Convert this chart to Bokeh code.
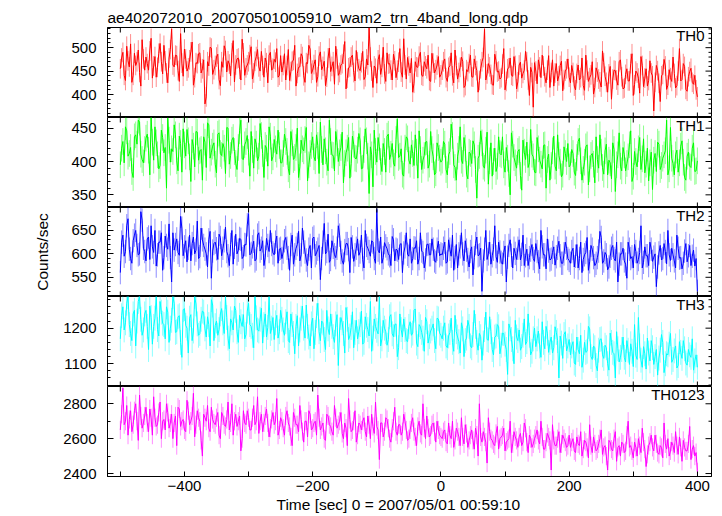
import numpy as np
from bokeh.plotting import figure
from bokeh.layouts import column
from bokeh.models import Range1d, Label, FixedTicker, ColumnDataSource, Title
from bokeh.embed import file_html
from bokeh.resources import INLINE

title_text = "ae402072010_20070501005910_wam2_trn_4band_long.qdp"
x_label = "Time [sec] 0 = 2007/05/01 00:59:10"
y_label = "Counts/sec"

# 2-s light-curve bins: "even" bins start at -500 s, "odd" bins at -498 s, each every 4 s
t_even_start = -500
t_odd_start = -498
t_pair_step = 4

th0_even = [455, 490, 430, 472, 508, 441, 462, 495, 418, 476,
            480, 452, 520, 461, 437, 488, 470, 505, 446, 478,
            540, 459, 483, 428, 467, 497, 450, 474, 512, 436,
            466, 489, 455, 380, 470, 501, 443, 462, 486, 419,
            458, 494, 472, 440, 515, 463, 478, 431, 489, 457,
            470, 502, 446, 481, 459, 492, 437, 468, 484, 452,
            475, 498, 441,
            448, 487, 462, 430, 471, 505, 445, 459, 481, 426,
            466, 497, 452, 474, 438, 491, 460, 419, 478, 449,
            470, 503, 441, 463, 486, 412, 457, 480, 447, 494,
            455, 468, 432, 476, 542, 450, 461, 424, 485, 458,
            444, 489, 466, 431, 472, 452, 498, 437, 463, 479,
            446, 405, 470, 458, 490, 439, 461, 484, 428, 467,
            453, 481, 442,
            470, 436, 458, 489, 425, 462, 447, 480, 415, 453,
            466, 438, 476, 451, 430, 470, 540, 444, 459, 421,
            486, 448, 433, 465, 410, 455, 478, 439, 462, 427,
            469, 445, 492, 431, 458, 373, 450, 474, 436, 461,
            425, 483, 447, 418, 466, 440, 471, 432, 455, 437,
            462, 418, 445, 431, 478, 409, 452, 436, 470, 415,
            448, 427, 493, 439, 405, 460, 433, 451, 420, 474,
            412, 443, 429, 466, 398, 450, 435, 481, 417, 455,
            430, 446, 365, 462, 424, 440, 475, 411, 453, 428,
            445, 419, 498, 432, 460, 407, 449, 426, 441, 395]
th0_odd = [478, 441, 503, 459, 426, 488, 470, 447, 517, 452,
           466, 493, 435, 481, 458, 509, 444, 472, 425, 496,
           463, 484, 451, 530, 439, 476, 457, 491, 420, 468,
           487, 446, 474, 395, 461, 499, 453, 480, 432, 470,
           504, 448, 465, 489, 427, 476, 454, 518, 441, 463,
           485, 433, 471, 496, 450, 462, 478, 425, 490, 456,
           469, 437, 483,
           462, 431, 496, 449, 473, 418, 458, 487, 440, 468,
           505, 445, 464, 426, 482, 453, 471, 437, 499, 460,
           422, 476, 447, 466, 513, 435, 459, 484, 429, 470,
           451, 492, 438, 463, 480, 415, 456, 474, 443, 501,
           428, 465, 452, 486, 436, 469, 448, 519, 433, 461,
           477, 424, 459, 482, 441, 470, 455, 430, 488, 446,
           463, 437,
           452, 476, 428, 461, 440, 495, 433, 458, 471, 419,
           449, 484, 437, 462, 405, 455, 479, 431, 466, 443,
           420, 472, 450, 436, 498, 428, 457, 441, 481, 412,
           463, 435, 452, 470, 398, 447, 468, 423, 459, 484,
           438, 452, 415, 474, 446, 429, 462, 408, 450, 476,
           425, 447, 410, 463, 436, 419, 484, 428, 442, 401,
           457, 433, 416, 468, 426, 444, 390, 452, 431, 470,
           438, 414, 455, 429, 487, 421, 446, 403, 462, 435,
           418, 472, 440, 426, 451, 385, 443, 461, 420, 436,
           480, 414, 450, 429, 466, 411, 438, 456, 422, 410]

th1_even = [395, 430, 452, 408, 421, 376, 440, 462, 411, 398,
            435, 417, 466, 402, 428, 389, 447, 413, 360, 432,
            419, 455, 401, 438, 384, 425, 448, 407, 433, 392,
            444, 416, 372, 429, 458, 405, 423, 396, 441, 412,
            427, 382, 450, 409, 436, 397, 421, 462, 403, 430,
            414, 445, 390, 426, 408, 439, 376, 420, 452, 401,
            433, 411, 424,
            398, 441, 415, 380, 428, 406, 450, 392, 419, 433,
            371, 412, 437, 401, 424, 459, 395, 416, 386, 430,
            409, 445, 400, 421, 368, 413, 436, 397, 426, 404,
            442, 389, 418, 431, 352, 410, 447, 399, 422, 385,
            415, 438, 403, 427, 393, 464, 408, 381, 420, 434,
            396, 412, 440, 375, 418, 402, 429, 390, 445, 407,
            383, 421, 399,
            430, 388, 410, 456, 395, 372, 418, 402, 436, 381,
            414, 397, 425, 345, 409, 428, 390, 444, 401, 378,
            420, 393, 412, 437, 384, 405, 350, 426, 398, 415,
            379, 432, 403, 391, 448, 407, 383, 419, 396, 424,
            360, 411, 394, 438, 386, 409, 377, 422, 400, 392,
            418, 384, 406, 435, 372, 399, 425, 389, 412, 368,
            403, 440, 391, 416, 380, 398, 428, 355, 410, 393,
            421, 386, 407, 446, 378, 400, 419, 388, 434, 396,
            371, 414, 402, 385, 426, 394, 410, 462, 389, 405,
            380, 417, 398, 431, 376, 408, 393, 420, 385, 401]
th1_odd = [420, 398, 446, 412, 385, 437, 426, 459, 403, 418,
           441, 380, 429, 452, 410, 394, 436, 421, 465, 399,
           415, 440, 386, 427, 449, 408, 431, 370, 423, 445,
           402, 418, 437, 391, 455, 414, 428, 383, 443, 409,
           420, 451, 396, 432, 415, 388, 446, 404, 425, 439,
           378, 418, 434, 401, 457, 412, 424, 393, 438, 407,
           419, 447, 398,
           412, 430, 389, 445, 403, 421, 376, 432, 416, 451,
           395, 424, 407, 440, 382, 418, 434, 399, 462, 410,
           386, 428, 413, 444, 397, 420, 375, 438, 405, 417,
           431, 390, 449, 408, 422, 362, 415, 436, 400, 427,
           384, 441, 411, 398, 433, 406, 419, 378, 437, 402,
           425, 394, 414, 446, 388, 409, 430, 396, 418, 380,
           428, 405,
           402, 426, 380, 415, 439, 391, 408, 452, 397, 420,
           374, 412, 431, 388, 405, 446, 393, 417, 366, 428,
           400, 385, 437, 410, 395, 421, 382, 443, 406, 390,
           418, 357, 414, 429, 398, 411, 384, 436, 402, 389,
           425, 403, 372, 416, 393, 440, 399, 381, 412, 427,
           395, 412, 379, 430, 401, 388, 422, 365, 409, 396,
           437, 390, 414, 381, 426, 402, 374, 418, 395, 443,
           386, 410, 397, 425, 370, 415, 392, 436, 404, 383,
           420, 398, 358, 412, 429, 388, 405, 416, 380, 451,
           397, 410, 384, 423, 399, 372, 414, 391, 428, 386]

th2_even = [560, 640, 605, 675, 590, 628, 650, 598, 690, 612,
            585, 636, 660, 603, 574, 625, 645, 592, 618, 664,
            540, 608, 632, 597, 655, 615, 583, 640, 622, 600,
            670, 594, 630, 610, 572, 648, 606, 625, 588, 635,
            612, 657, 596, 620, 578, 642, 608, 631, 594, 619,
            686, 601, 627, 589, 645, 612, 575, 633, 605, 620,
            598, 638, 610,
            590, 628, 612, 565, 640, 598, 620, 585, 655, 604,
            575, 618, 633, 596, 610, 545, 625, 600, 642, 588,
            614, 592, 660, 603, 578, 622, 609, 635, 584, 612,
            597, 640, 570, 618, 605, 628, 590, 695, 602, 580,
            624, 611, 596, 637, 585, 608, 620, 560, 615, 599,
            632, 590, 612, 578, 645, 603, 587, 621, 598, 610,
            582, 627, 600,
            612, 580, 630, 595, 565, 620, 600, 645, 585, 608,
            572, 615, 592, 636, 598, 520, 610, 588, 625, 596,
            660, 582, 604, 578, 617, 593, 630, 570, 601, 612,
            587, 640, 596, 575, 608, 590, 622, 583, 650, 598,
            568, 606, 589, 615, 594, 627, 580, 600, 612, 586,
            605, 572, 620, 590, 560, 598, 635, 583, 610, 575,
            592, 648, 580, 603, 566, 595, 618, 585, 540, 600,
            612, 578, 625, 590, 570, 605, 588, 660, 582, 596,
            575, 610, 593, 530, 602, 587, 622, 579, 598, 612,
            585, 640, 591, 568, 606, 583, 618, 595, 574, 520]
th2_odd = [625, 595, 660, 610, 580, 640, 618, 600, 672, 605,
           632, 588, 615, 650, 598, 625, 565, 638, 610, 592,
           645, 620, 603, 680, 596, 628, 612, 585, 636, 608,
           590, 655, 618, 600, 630, 548, 622, 611, 642, 596,
           628, 605, 575, 650, 614, 600, 633, 590, 620, 662,
           598, 615, 585, 640, 606, 628, 593, 618, 650, 602,
           625, 580, 612,
           604, 635, 592, 620, 578, 612, 648, 598, 625, 587,
           610, 570, 636, 602, 618, 590, 665, 605, 582, 628,
           598, 612, 640, 585, 607, 622, 560, 615, 598, 632,
           604, 588, 650, 612, 595, 625, 580, 608, 636, 592,
           617, 600, 575, 630, 610, 588, 622, 602, 645, 595,
           580, 613, 628, 590, 606, 570, 620, 598, 632, 585,
           610, 596,
           598, 625, 583, 610, 640, 592, 570, 615, 600, 628,
           588, 605, 555, 622, 596, 612, 585, 650, 600, 578,
           610, 594, 625, 582, 603, 540, 618, 597, 612, 588,
           630, 599, 575, 610, 592, 620, 584, 605, 568, 615,
           598, 632, 587, 603, 576, 612, 596, 580, 625, 590,
           580, 612, 595, 570, 625, 588, 603, 565, 618, 592,
           580, 606, 635, 585, 598, 572, 612, 590, 625, 578,
           600, 585, 548, 610, 594, 620, 580, 603, 570, 615,
           596, 625, 584, 600, 572, 618, 590, 605, 650, 586,
           598, 570, 612, 592, 580, 622, 596, 575, 608, 590]

th3_even = [1170, 1260, 1215, 1289, 1185, 1240, 1150, 1275, 1225, 1195,
            1250, 1140, 1230, 1205, 1289, 1178, 1245, 1210, 1260, 1160,
            1222, 1270, 1190, 1235, 1118, 1255, 1200, 1228, 1165, 1289,
            1212, 1185, 1248, 1198, 1232, 1150, 1265, 1207, 1180, 1240,
            1215, 1289, 1172, 1226, 1195, 1250, 1160, 1218, 1238, 1182,
            1270, 1205, 1145, 1229, 1192, 1256, 1210, 1175, 1289, 1200,
            1168, 1236, 1190,
            1225, 1180, 1246, 1160, 1210, 1128, 1235, 1195, 1262, 1172,
            1205, 1150, 1228, 1188, 1270, 1165, 1215, 1140, 1198, 1240,
            1176, 1212, 1095, 1230, 1185, 1258, 1168, 1202, 1145, 1222,
            1190, 1248, 1160, 1208, 1178, 1135, 1226, 1194, 1289, 1170,
            1200, 1152, 1232, 1184, 1210, 1120, 1240, 1175, 1196, 1162,
            1218, 1186, 1254, 1148, 1204, 1172, 1230, 1158, 1192, 1212,
            1142, 1226, 1180,
            1200, 1150, 1178, 1228, 1135, 1190, 1162, 1215, 1120, 1172,
            1205, 1145, 1250, 1160, 1185, 1110, 1196, 1168, 1232, 1140,
            1175, 1210, 1128, 1186, 1155, 1070, 1198, 1142, 1222, 1165,
            1138, 1180, 1154, 1240, 1125, 1170, 1148, 1192, 1118, 1160,
            1205, 1132, 1175, 1145, 1188, 1060, 1158, 1182, 1136, 1168,
            1150, 1102, 1175, 1128, 1090, 1160, 1135, 1198, 1112, 1145,
            1080, 1168, 1125, 1152, 1100, 1186, 1132, 1060, 1142, 1118,
            1175, 1105, 1138, 1156, 1092, 1124, 1230, 1110, 1148, 1085,
            1130, 1165, 1098, 1140, 1116, 1182, 1075, 1128, 1155, 1104,
            1136, 1088, 1162, 1115, 1142, 1096, 1125, 1170, 1108, 1090]
th3_odd = [1235, 1195, 1270, 1210, 1165, 1250, 1220, 1289, 1180, 1240,
           1205, 1262, 1155, 1228, 1196, 1275, 1214, 1170, 1245, 1200,
           1289, 1188, 1232, 1160, 1252, 1208, 1130, 1238, 1192, 1268,
           1180, 1225, 1245, 1175, 1210, 1280, 1165, 1220, 1196, 1255,
           1185, 1230, 1142, 1215, 1262, 1190, 1236, 1205, 1170, 1248,
           1210, 1180, 1289, 1195, 1225, 1158, 1240, 1202, 1185, 1230,
           1215, 1172, 1250,
           1195, 1218, 1165, 1240, 1185, 1205, 1150, 1228, 1200, 1265,
           1175, 1212, 1142, 1235, 1190, 1220, 1168, 1250, 1182, 1205,
           1160, 1238, 1195, 1215, 1130, 1225, 1178, 1246, 1188, 1170,
           1210, 1155, 1232, 1196, 1275, 1172, 1205, 1184, 1150, 1222,
           1190, 1168, 1238, 1176, 1212, 1145, 1196, 1226, 1165, 1205,
           1180, 1250, 1158, 1210, 1188, 1135, 1218, 1176, 1200, 1165,
           1228, 1186,
           1170, 1215, 1145, 1188, 1160, 1236, 1175, 1130, 1198, 1165,
           1222, 1150, 1182, 1205, 1138, 1176, 1158, 1245, 1166, 1190,
           1125, 1178, 1204, 1152, 1185, 1140, 1212, 1168, 1100, 1175,
           1195, 1148, 1226, 1162, 1180, 1135, 1200, 1170, 1150, 1218,
           1142, 1186, 1160, 1130, 1204, 1165, 1178, 1115, 1190, 1150,
           1125, 1162, 1098, 1140, 1180, 1110, 1132, 1205, 1120, 1150,
           1095, 1138, 1170, 1115, 1145, 1082, 1160, 1128, 1190, 1105,
           1140, 1118, 1165, 1098, 1135, 1210, 1112, 1150, 1090, 1128,
           1172, 1108, 1145, 1120, 1068, 1138, 1160, 1100, 1125, 1185,
           1112, 1150, 1095, 1132, 1165, 1102, 1140, 1118, 1082, 1125]

th0123_even = [2650, 2890, 2700, 2620, 2760, 2680, 2800, 2590, 2730, 2690,
               2780, 2640, 2720, 2840, 2670, 2750, 2600, 2710, 2800, 2660,
               2740, 2690, 2560, 2770, 2700, 2650, 2820, 2680, 2730, 2610,
               2760, 2700, 2500, 2720, 2790, 2640, 2710, 2680, 2750, 2600,
               2730, 2670, 2810, 2690, 2620, 2740, 2700, 2530, 2760, 2680,
               2720, 2650, 2790, 2700, 2630, 2740, 2690, 2770, 2610, 2710,
               2680, 2830, 2650,
               2700, 2620, 2760, 2670, 2560, 2720, 2680, 2790, 2640, 2700,
               2610, 2740, 2660, 2700, 2850, 2650, 2690, 2590, 2730, 2670,
               2620, 2720, 2680, 2750, 2600, 2660, 2830, 2640, 2700, 2580,
               2690, 2650, 2720, 2610, 2680, 2740, 2630, 2670, 2480, 2690,
               2640, 2710, 2600, 2660, 2780, 2620, 2680, 2640, 2700, 2590,
               2650, 2720, 2610, 2670, 2630, 2800, 2600, 2660, 2620, 2690,
               2580, 2650, 2610,
               2640, 2580, 2690, 2600, 2550, 2660, 2610, 2720, 2570, 2630,
               2590, 2650, 2540, 2620, 2800, 2580, 2610, 2460, 2640, 2590,
               2560, 2670, 2600, 2620, 2530, 2590, 2700, 2570, 2610, 2550,
               2630, 2580, 2660, 2520, 2600, 2570, 2620, 2590, 2700, 2540,
               2580, 2610, 2420, 2590, 2560, 2640, 2570, 2600, 2550, 2620,
               2580, 2530, 2610, 2560, 2500, 2590, 2550, 2680, 2520, 2570,
               2540, 2600, 2510, 2560, 2420, 2580, 2530, 2640, 2550, 2500,
               2570, 2530, 2700, 2560, 2490, 2550, 2600, 2520, 2580, 2440,
               2560, 2620, 2530, 2570, 2510, 2550, 2690, 2540, 2500, 2580,
               2520, 2560, 2610, 2470, 2550, 2530, 2670, 2540, 2500, 2410]
th0123_odd = [2740, 2680, 2790, 2710, 2640, 2760, 2700, 2850, 2660, 2730,
              2690, 2770, 2620, 2720, 2680, 2810, 2700, 2650, 2750, 2690,
              2600, 2730, 2780, 2670, 2710, 2640, 2760, 2700, 2860, 2680,
              2720, 2590, 2740, 2700, 2660, 2780, 2690, 2720, 2620, 2750,
              2680, 2710, 2650, 2800, 2700, 2670, 2730, 2600, 2690, 2760,
              2650, 2720, 2680, 2840, 2700, 2640, 2730, 2690, 2660, 2750,
              2700, 2620, 2720,
              2660, 2730, 2690, 2610, 2750, 2680, 2640, 2710, 2580, 2700,
              2760, 2650, 2690, 2620, 2720, 2670, 2600, 2740, 2680, 2640,
              2790, 2660, 2700, 2630, 2690, 2560, 2710, 2650, 2760, 2620,
              2680, 2700, 2640, 2730, 2600, 2670, 2810, 2650, 2690, 2610,
              2720, 2660, 2580, 2700, 2640, 2680, 2620, 2740, 2650, 2600,
              2690, 2640, 2560, 2700, 2620, 2660, 2730, 2610, 2680, 2640,
              2700, 2620,
              2600, 2650, 2570, 2620, 2700, 2590, 2640, 2560, 2610, 2680,
              2550, 2620, 2590, 2660, 2500, 2610, 2640, 2580, 2720, 2600,
              2570, 2630, 2540, 2610, 2660, 2580, 2600, 2520, 2640, 2590,
              2610, 2560, 2690, 2580, 2620, 2550, 2600, 2650, 2570, 2610,
              2540, 2630, 2590, 2680, 2560, 2600, 2520, 2620, 2580, 2560,
              2550, 2600, 2520, 2570, 2640, 2540, 2580, 2490, 2560, 2610,
              2530, 2570, 2650, 2550, 2500, 2590, 2540, 2600, 2470, 2560,
              2580, 2520, 2620, 2550, 2530, 2580, 2500, 2560, 2660, 2540,
              2510, 2580, 2550, 2620, 2520, 2560, 2490, 2570, 2600, 2530,
              2560, 2640, 2510, 2550, 2590, 2530, 2570, 2480, 2560, 2520]

band_names = ["TH0", "TH1", "TH2", "TH3", "TH0123"]
band_even = [th0_even, th1_even, th2_even, th3_even, th0123_even]
band_odd = [th0_odd, th1_odd, th2_odd, th3_odd, th0123_odd]
band_errors = [21, 20, 25, 35, 52]
band_colors = ["#ff0000", "#00ff00", "#0000ff", "#00ffff", "#ff00ff"]
y_limits = [(351, 543), (331, 466), (509, 699), (1036, 1289), (2383, 2899)]
y_major = [[400, 450, 500], [350, 400, 450], [550, 600, 650], [1100, 1200], [2400, 2600, 2800]]
y_minor_step = [10, 10, 10, 20, 100]
x_limits = (-520, 422)
x_major = [-400, -200, 0, 200, 400]
x_minor = [-500, -300, -100, 100, 300]

FONT = "Liberation Sans"
FS = "15px"

x_range = Range1d(*x_limits)
frame_heights = [90, 90, 89, 90, 90]
figs = []
n = len(band_names)

for i in range(n):
    ev = np.array(band_even[i], dtype=float)
    od = np.array(band_odd[i], dtype=float)
    t_ev = t_even_start + t_pair_step * np.arange(len(ev))
    t_od = t_odd_start + t_pair_step * np.arange(len(od))
    t_all = np.concatenate([t_ev, t_od])
    v_all = np.concatenate([ev, od])
    order = np.argsort(t_all)
    times = t_all[order]
    vals = v_all[order]
    err = band_errors[i]
    src = ColumnDataSource(dict(t=times, y=vals, lo=vals - err, hi=vals + err))

    is_first = i == 0
    is_last = i == n - 1
    ylo, yhi = y_limits[i]
    p = figure(frame_width=604, frame_height=frame_heights[i],
               x_range=x_range, y_range=Range1d(ylo, yhi),
               x_axis_location="below" if is_last else None,
               output_backend="svg", toolbar_location=None,
               min_border_left=107, min_border_right=2,
               min_border_top=27 if is_first else 0,
               min_border_bottom=38 if is_last else 0,
               title=title_text if is_first else None)
    p.background_fill_color = "white"
    p.border_fill_color = "white"
    p.outline_line_color = "black"
    p.outline_line_width = 1
    p.grid.visible = False

    p.segment(x0="t", y0="lo", x1="t", y1="hi", source=src,
              line_color=band_colors[i], line_alpha=0.45, line_width=1)
    p.line("t", "y", source=src, line_color=band_colors[i], line_width=1)

    minor_y = [v for v in range(ylo - ylo % y_minor_step[i] + y_minor_step[i], yhi + 1, y_minor_step[i])
               if v not in y_major[i]]

    # left axis (with labels)
    ly = p.yaxis[0]
    ly.ticker = FixedTicker(ticks=y_major[i], minor_ticks=minor_y)
    ly.axis_line_color = "black"
    ly.major_tick_in = 6
    ly.major_tick_out = 0
    ly.minor_tick_in = 3
    ly.minor_tick_out = 0
    ly.major_tick_line_color = "black"
    ly.minor_tick_line_color = "black"
    ly.major_label_text_font = FONT
    ly.major_label_text_font_size = FS
    ly.major_label_text_color = "black"
    ly.major_label_standoff = 11
    ly.major_label_orientation = "horizontal"
    if i == 2:
        ly.axis_label = y_label
        ly.axis_label_text_font = FONT
        ly.axis_label_text_font_size = "15.5px"
        ly.axis_label_text_font_style = "normal"
        ly.axis_label_text_color = "black"
        ly.axis_label_standoff = 17

    # mirrored ticks on the right (y) and top/bottom (x) edges, clipped to the frame
    p.scatter(x=[x_limits[1]] * len(y_major[i]), y=y_major[i], marker="dash",
              size=12, line_color="black", line_width=1)
    p.scatter(x=[x_limits[1]] * len(minor_y), y=minor_y, marker="dash",
              size=6, line_color="black", line_width=1)
    xt_all = x_major + x_minor
    p.scatter(x=xt_all, y=[yhi] * len(xt_all), marker="dash", angle=np.pi / 2,
              size=10, line_color="black", line_width=1)
    if not is_last:
        p.scatter(x=xt_all, y=[ylo] * len(xt_all), marker="dash", angle=np.pi / 2,
                  size=10, line_color="black", line_width=1)
    else:
        bx = p.xaxis[0]
        bx.ticker = FixedTicker(ticks=x_major, minor_ticks=x_minor)
        bx.axis_line_color = "black"
        bx.major_tick_in = 5
        bx.major_tick_out = 0
        bx.minor_tick_in = 5
        bx.minor_tick_out = 0
        bx.major_tick_line_color = "black"
        bx.minor_tick_line_color = "black"
        bx.major_label_text_font = FONT
        bx.major_label_text_font_size = FS
        bx.major_label_text_color = "black"
        bx.major_label_standoff = 4
        bx.major_label_overrides = {-400: "\u2212400", -200: "\u2212200"}
        p.add_layout(Title(text=x_label, align="left", offset=169,
                           text_font=FONT, text_font_size="15.5px",
                           text_font_style="normal", text_color="black",
                           standoff=0), "below")

    if is_first:
        p.title.text_font = FONT
        p.title.text_font_size = "15.5px"
        p.title.text_font_style = "normal"
        p.title.text_color = "black"
        p.title.align = "left"
        p.title.standoff = 3

    p.add_layout(Label(x=x_limits[1], y=yhi, text=band_names[i],
                       text_align="right", text_baseline="top",
                       x_offset=-7, y_offset=1,
                       text_font=FONT, text_font_size=FS, text_color="black"))
    figs.append(p)

layout = column(*figs, spacing=0)
open("out.html", "w").write(file_html(layout, INLINE))
